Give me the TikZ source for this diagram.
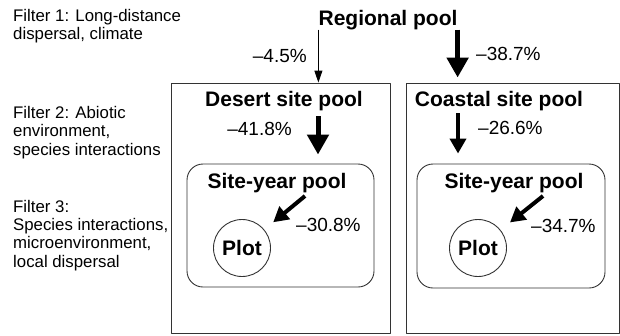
\documentclass[tikz,border=0pt]{standalone}
\usepackage{fontspec}
\setmainfont{Liberation Sans}
\usetikzlibrary{arrows.meta}
\tikzset{
  box/.style={draw=black!80, line width=0.9pt, inner sep=0pt},
  pool/.style={font=\fontsize{21}{23}\selectfont\bfseries, inner sep=0pt, anchor=base},
  pct/.style={font=\fontsize{19}{21}\selectfont, inner sep=0pt},
  filt/.style={font=\fontsize{16.8}{18.3}\selectfont, align=left, inner sep=0pt, anchor=base west},
  thinarr/.style={line width=0.9pt, -{Triangle[width=8pt,length=12pt]}},
  bigarr/.style={line width=5pt, -{Triangle[width=21pt,length=20pt]}},
  midarr/.style={line width=4pt, -{Triangle[width=16pt,length=15pt]}}
}
\begin{document}
\begin{tikzpicture}[x=1pt,y=-1pt, line join=round]
	\useasboundingbox (0,0) rectangle (620,335);
	% filters (base = last line)
	\node[filt] (f1) at (13,39.5) {Filter 1: Long-distance\\dispersal, climate};
	\node[filt] (f2) at (13,155) {Filter 2: Abiotic\\environment,\\species interactions};
	\node[filt] (f3) at (13,267) {Filter 3:\\Species interactions,\\microenvironment,\\local dispersal};
	% pools
	\node[pool] (regional) at (388,25) {Regional pool};
	\node[box, minimum width=219pt, minimum height=250pt] (dbox) at (280.5,208) {};
	\node[box, minimum width=213pt, minimum height=250pt] (cbox) at (512.5,208) {};
	\node[pool] (dtitle) at (284,106) {Desert site pool};
	\node[pool] (ctitle) at (499,106) {Coastal site pool};
	\node[box, rounded corners=16pt, minimum width=187pt, minimum height=123pt] (dsy) at (280.5,225.5) {};
	\node[box, rounded corners=16pt, minimum width=188pt, minimum height=124pt] (csy) at (511,226) {};
	\node[pool] (dsytitle) at (277,188) {Site-year pool};
	\node[pool] (csytitle) at (514,188) {Site-year pool};
	\node[box, circle, minimum size=57pt, font=\fontsize{21}{23}\selectfont\bfseries] (dplot) at (242,248) {Plot};
	\node[box, circle, minimum size=57pt, font=\fontsize{21}{23}\selectfont\bfseries] (cplot) at (478,248) {Plot};
	% arrows
	\draw[thinarr] (regional.south west) -- (regional.south west |- dbox.north);
	\draw[bigarr, shorten >=5pt] (regional.south east) -- (regional.south east |- cbox.north);
	\coordinate (dtop) at (318,116);
	\coordinate (ctop) at (458,113);
	\draw[bigarr, shorten >=9pt] (dtop) -- (dtop |- dsy.north);
	\draw[midarr, shorten >=10pt] (ctop) -- (ctop |- csy.north);
	\coordinate (dtail) at (305,196);
	\coordinate (ctail) at (543,196);
	\draw[midarr, shorten >=11.5pt] (dtail) -- (dplot);
	\draw[midarr, shorten >=12pt] (ctail) -- (cplot);
	% percentages
	\node[pct, anchor=base east] (p1) at (307,62) {–4.5\%};
	\node[pct, anchor=base west] (p2) at (476,60) {–38.7\%};
	\node[pct, anchor=base east] (p3) at (292,135) {–41.8\%};
	\node[pct, anchor=base west] (p4) at (478,134) {–26.6\%};
	\node[pct, anchor=base west] (p5) at (296,231) {–30.8\%};
	\node[pct, anchor=base west] (p6) at (531,232) {–34.7\%};
\end{tikzpicture}
\end{document}
